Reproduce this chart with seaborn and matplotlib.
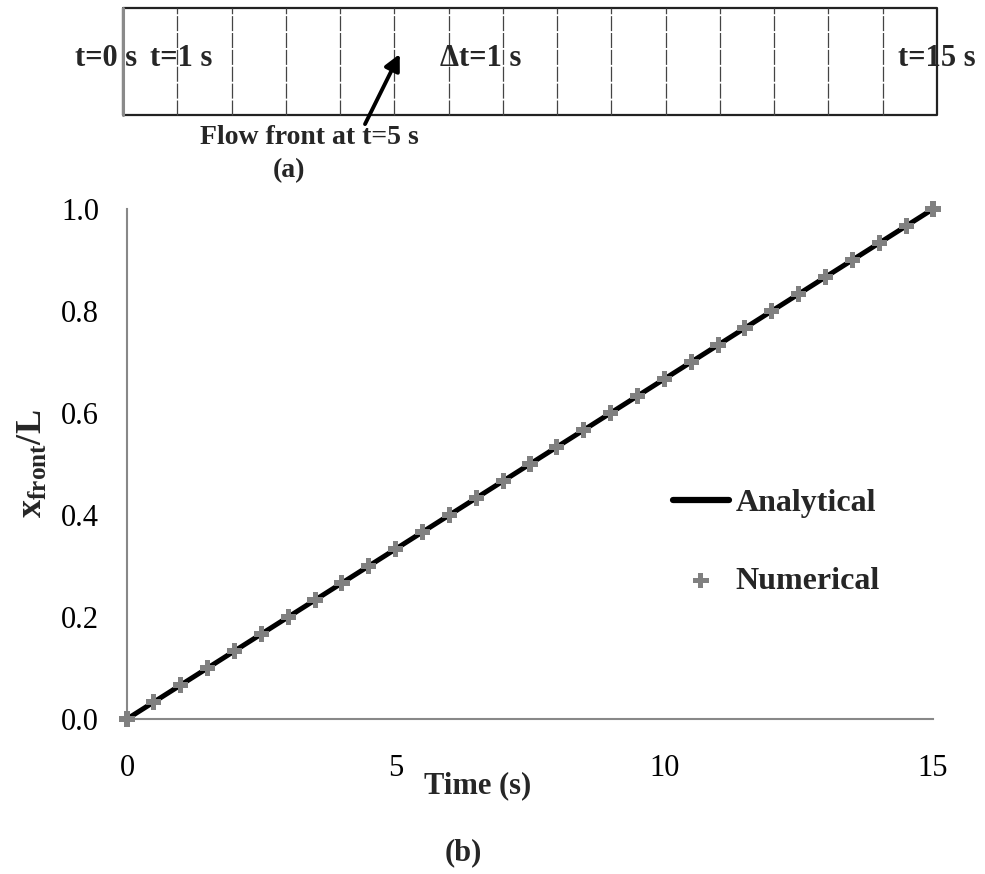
import matplotlib
matplotlib.use("Agg")
import matplotlib.pyplot as plt
import seaborn as sns
import pandas as pd

# ---------------- data ----------------
front_times = [1, 2, 3, 4, 5, 6, 7, 8, 9, 10, 11, 12, 13, 14]   # flow-front snapshots (s)
panel_end = 15                                                  # t at the outlet (s)

analytical_t = [0, 15]
analytical_x = [0.0, 1.0]

numerical_t = [0, 0.5, 1, 1.5, 2, 2.5, 3, 3.5, 4, 4.5, 5, 5.5, 6, 6.5, 7, 7.5,
               8, 8.5, 9, 9.5, 10, 10.5, 11, 11.5, 12, 12.5, 13, 13.5, 14, 14.5, 15]
numerical_x = [0.0, 0.0333, 0.0667, 0.1, 0.1333, 0.1667, 0.2, 0.2333, 0.2667, 0.3,
               0.3333, 0.3667, 0.4, 0.4333, 0.4667, 0.5, 0.5333, 0.5667, 0.6, 0.6333,
               0.6667, 0.7, 0.7333, 0.7667, 0.8, 0.8333, 0.8667, 0.9, 0.9333, 0.9667, 1.0]

x_ticks = [0, 5, 10, 15]
y_ticks = [0.0, 0.2, 0.4, 0.6, 0.8, 1.0]
y_ticklabels = ["0.0", "0.2", "0.4", "0.6", "0.8", "1.0"]

# ---------------- style ----------------
sns.set_style("white")
plt.rcParams["font.family"] = ["Liberation Serif", "DejaVu Serif"]
plt.rcParams["mathtext.fontset"] = "custom"
plt.rcParams["mathtext.rm"] = "Liberation Serif"
plt.rcParams["mathtext.bf"] = "Liberation Serif:bold"
plt.rcParams["mathtext.it"] = "Liberation Serif:italic"

W, H = 985, 874
fig = plt.figure(figsize=(W / 100, H / 100), dpi=100)

def fx(px):
    return px / W

def fy(py):
    return 1 - py / H

# ---------------- main plot (b) ----------------
ax = fig.add_axes([fx(127), fy(719), fx(933) - fx(127), fy(209) - fy(719)])
df_a = pd.DataFrame({"t": analytical_t, "x": analytical_x})
df_n = pd.DataFrame({"t": numerical_t, "x": numerical_x})
sns.lineplot(data=df_a, x="t", y="x", ax=ax, color="black", linewidth=3.6,
             label="Analytical", zorder=2)
sns.scatterplot(data=df_n, x="t", y="x", ax=ax, color="#808080", marker="P",
                s=120, edgecolor="none", label="Numerical", zorder=3, clip_on=False)
ax.set_xlim(0, 15)
ax.set_ylim(0, 1.0)
ax.set_xticks(x_ticks)
ax.set_xticklabels([str(v) for v in x_ticks])
ax.set_yticks(y_ticks)
ax.set_yticklabels(y_ticklabels)
for s in ["top", "right"]:
    ax.spines[s].set_visible(False)
for s in ["left", "bottom"]:
    ax.spines[s].set_color("#888888")
    ax.spines[s].set_linewidth(1.5)
ax.tick_params(axis="both", direction="out", length=6, width=1.5, color="#888888",
               labelsize=22, labelcolor="black")
ax.tick_params(axis="x", pad=19)
ax.tick_params(axis="y", pad=14)
ax.set_xlabel("")
ax.set_ylabel(r"$\mathbf{x_{front}/L}$", fontsize=26, labelpad=8)
fig.text(fx(478), fy(786), "Time (s)", ha="center", va="center", fontsize=22,
         fontweight="bold")
fig.text(fx(463), fy(853), "(b)", ha="center", va="center", fontsize=22,
         fontweight="bold")

leg = ax.legend(loc="upper left", bbox_to_anchor=(fx(673), fy(489)),
                bbox_transform=fig.transFigure,
                frameon=False, fontsize=23, handlelength=1.75, handletextpad=0.2,
                labelspacing=1.5, borderpad=0, borderaxespad=0)
for t in leg.get_texts():
    t.set_fontweight("bold")
for h in leg.legend_handles:
    if hasattr(h, "set_linewidth"):
        try:
            h.set_linewidth(4.5)
        except Exception:
            pass

# ---------------- top panel (a) ----------------
ax2 = fig.add_axes([fx(123), fy(115), fx(937) - fx(123), fy(8) - fy(115)])
ax2.set_xlim(0, panel_end)
ax2.set_ylim(0, 1)
ax2.axis("off")
# outer box
ax2.plot([0, panel_end, panel_end, 0, 0], [0, 0, 1, 1, 0], color="#222222",
         linewidth=1.6, clip_on=False)
ax2.plot([0, 0], [0, 1], color="#8a8a8a", linewidth=2.2, clip_on=False)
for t in front_times:
    ax2.plot([t, t], [0, 1], color="#444444", linewidth=0.9,
             linestyle=(0, (12, 1.5)), clip_on=False)

lab_kw = dict(fontsize=22, fontweight="bold", va="center", clip_on=False)
ax2.text(-0.31, 0.53, "t=0 s", ha="center", **lab_kw)
ax2.text(1.07, 0.53, "t=1 s", ha="center", **lab_kw)
ax2.text(6.6, 0.53, "\u0394t=1 s", ha="center", **lab_kw)
ax2.text(15.0, 0.53, "t=15 s", ha="center", **lab_kw)
ax2.annotate("", xy=(5.1, 0.57), xytext=(4.46, -0.085),
             arrowprops=dict(arrowstyle="-|>", color="black", lw=2.8,
                             mutation_scale=24, shrinkA=0, shrinkB=0),
             annotation_clip=False)
ax2.text(1.42, (115 - 138) / 107, "Flow front at t=5 s", ha="left", va="center",
         fontsize=20, fontweight="bold", clip_on=False)
ax2.text(3.06, (115 - 171) / 107, "(a)", ha="center", va="center", fontsize=20,
         fontweight="bold", clip_on=False)

fig.savefig("out.png", dpi=100)
